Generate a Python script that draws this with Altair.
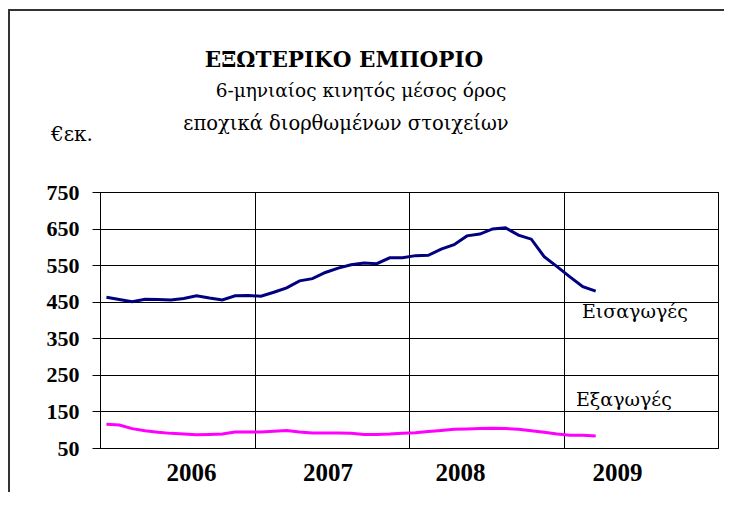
import altair as alt
import pandas as pd

# Monthly points, Jan 2006 .. Mar 2009 (39 months), 6-month moving average, € million
month_index = list(range(39))
imports = [462, 456, 450, 457, 456, 455, 459, 466, 460, 455, 466, 467,
           465, 476, 488, 507, 513, 530, 542, 551, 556, 554, 570, 570,
           576, 577, 594, 606, 630, 635, 649, 652, 632, 621, 573, 546,
           518, 491, 479]
exports = [115, 113, 103, 97, 93, 90, 88, 86, 87, 88, 94, 94,
           94, 96, 98, 94, 91, 91, 91, 90, 87, 87, 88, 90,
           92, 95, 98, 101, 102, 103, 104, 103, 101, 97, 93, 88,
           85, 85, 83]
years = ["2006", "2007", "2008", "2009"]
year_label_month = [7.1, 17.7, 28.0, 40.2]
y_ticks = [50, 150, 250, 350, 450, 550, 650, 750]
year_bounds = [0, 12, 24, 36, 48]

FONT = "Liberation Serif"
FONT_GR = "DejaVu Serif"

df = pd.DataFrame({
    "m": [i + 0.5 for i in month_index],
    "imp": imports,
    "exp": exports,
})

xscale = alt.Scale(domain=[0, 48], nice=False, zero=False)
yscale = alt.Scale(domain=[50, 750], nice=False, zero=False)

xaxis = alt.Axis(values=year_bounds, grid=True, gridColor="black", gridWidth=1,
                 labels=False, ticks=False, domain=False, title=None)
yaxis = alt.Axis(values=y_ticks, grid=True, gridColor="black", gridWidth=1,
                 tickSize=8, tickColor="black", tickWidth=1, domain=False,
                 labelFont=FONT, labelFontWeight="bold", labelFontSize=22,
                 labelColor="black", labelPadding=13, labelOverlap=False,
                 title=None)

imp_line = alt.Chart(df).mark_line(color="#000080", strokeWidth=3).encode(
    x=alt.X("m:Q", scale=xscale, axis=xaxis),
    y=alt.Y("imp:Q", scale=yscale, axis=yaxis),
)
exp_line = alt.Chart(df).mark_line(color="#FF00FF", strokeWidth=3).encode(
    x=alt.X("m:Q", scale=xscale, axis=xaxis),
    y=alt.Y("exp:Q", scale=yscale, axis=yaxis),
)

year_df = pd.DataFrame({"year": years, "pos": year_label_month})
year_text = alt.Chart(year_df).mark_text(
    font=FONT, fontWeight="bold", fontSize=25, baseline="alphabetic",
    align="center", color="black"
).encode(
    x=alt.X("pos:Q", scale=xscale, axis=xaxis),
    y=alt.value(289),
    text="year:N",
)

one = pd.DataFrame({"a": [0]})

def label(text, x, y, size, weight="normal", align="center"):
    return alt.Chart(one).mark_text(
        text=text, font=FONT_GR, fontSize=size, fontWeight=weight,
        align=align, baseline="alphabetic", color="black"
    ).encode(x=alt.value(x), y=alt.value(y))

title = label("ΕΞΩΤΕΡΙΚΟ ΕΜΠΟΡΙΟ", 244, -125, 21.5, "bold")
sub1 = label("6-μηνιαίος κινητός μέσος όρος", 261, -95, 18.5)
sub2 = label("εποχικά διορθωμένων στοιχείων", 246, -62, 19.5)
unit = label("€εκ.", -49, -51, 20, align="left")
lab_imp = label("Εισαγωγές", 482, 126, 19, align="left")
lab_exp = label("Εξαγωγές", 476, 214, 19, align="left")

# outer frame of the figure (top and left edges visible)
frame_top = alt.Chart(one).mark_rule(color="#333333", strokeWidth=2).encode(
    x=alt.value(-92), x2=alt.value(640), y=alt.value(-182)
)
frame_left = alt.Chart(one).mark_rule(color="#333333", strokeWidth=2).encode(
    x=alt.value(-91), y=alt.value(-182), y2=alt.value(330)
)

chart = alt.layer(
    frame_top, frame_left, imp_line, exp_line, year_text,
    title, sub1, sub2, unit, lab_imp, lab_exp
).properties(
    width=618, height=256,
    padding={"left": 92, "top": 184, "right": 6, "bottom": 44},
    autosize=alt.AutoSizeParams(type="none"),
).configure_view(stroke="black", strokeWidth=1)

chart.save("out.html", embed_options={"renderer": "svg", "actions": False})
